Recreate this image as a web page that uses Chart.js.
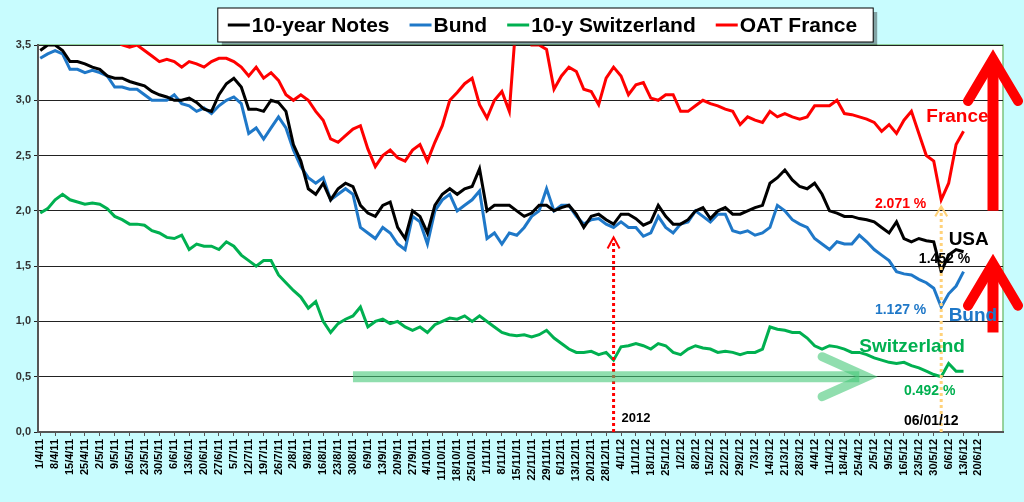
<!DOCTYPE html>
<html><head><meta charset="utf-8">
<script src="https://cdn.jsdelivr.net/npm/chart.js@4"></script>
<style>html,body{margin:0;padding:0;background:#c8fcfe;}#wrap{width:1024px;height:502px;}</style>
</head><body><div id="wrap"><canvas id="c" width="1024" height="502"></canvas></div>
<script>
const weekLabels = ["1/4/11","8/4/11","15/4/11","25/4/11","2/5/11","9/5/11","16/5/11","23/5/11","30/5/11","6/6/11","13/6/11","20/6/11","27/6/11","5/7/11","12/7/11","19/7/11","26/7/11","2/8/11","9/8/11","16/8/11","23/8/11","30/8/11","6/9/11","13/9/11","20/9/11","27/9/11","4/10/11","11/10/11","18/10/11","25/10/11","1/11/11","8/11/11","15/11/11","22/11/11","29/11/11","6/12/11","13/12/11","20/12/11","28/12/11","4/1/12","11/1/12","18/1/12","25/1/12","1/2/12","8/2/12","15/2/12","22/2/12","29/2/12","7/3/12","14/3/12","21/3/12","28/3/12","4/4/12","11/4/12","18/4/12","25/4/12","2/5/12","9/5/12","16/5/12","23/5/12","30/5/12","6/6/12","13/6/12","20/6/12"];
// two observations per week
const usNotes = [3.45,3.5,3.5,3.45,3.35,3.35,3.33,3.3,3.28,3.22,3.2,3.2,3.17,3.15,3.13,3.08,3.05,3.03,3.0,3.0,3.02,2.98,2.92,2.9,3.05,3.15,3.2,3.12,2.92,2.92,2.9,3.0,2.98,2.9,2.6,2.45,2.2,2.15,2.25,2.1,2.2,2.25,2.22,2.05,1.98,1.95,2.05,2.08,1.85,1.75,2.0,1.95,1.8,2.05,2.15,2.2,2.15,2.2,2.22,2.38,2.0,2.05,2.05,2.05,2.0,1.95,1.98,2.05,2.05,2.0,2.03,2.05,1.97,1.85,1.95,1.97,1.92,1.88,1.97,1.97,1.93,1.87,1.9,2.05,1.95,1.88,1.88,1.92,2.0,2.03,1.93,2.0,2.03,1.97,1.97,2.0,2.03,2.05,2.25,2.3,2.37,2.28,2.22,2.2,2.25,2.15,2.0,1.98,1.95,1.95,1.93,1.92,1.9,1.85,1.8,1.9,1.75,1.72,1.75,1.73,1.72,1.45,1.6,1.65,1.63];
const bund = [3.38,3.42,3.45,3.42,3.28,3.28,3.25,3.27,3.25,3.22,3.12,3.12,3.1,3.1,3.05,3.0,3.0,3.0,3.05,2.97,2.95,2.9,2.93,2.88,2.95,3.0,3.03,2.97,2.7,2.75,2.65,2.75,2.85,2.75,2.55,2.4,2.3,2.25,2.3,2.1,2.15,2.2,2.15,1.85,1.8,1.75,1.85,1.8,1.7,1.65,1.95,1.9,1.7,2.0,2.1,2.15,2.0,2.05,2.1,2.18,1.75,1.8,1.7,1.8,1.78,1.85,1.95,2.0,2.2,2.0,2.05,2.05,1.95,1.88,1.92,1.93,1.88,1.85,1.9,1.85,1.85,1.77,1.8,1.95,1.85,1.8,1.88,1.9,2.0,1.95,1.9,1.97,1.97,1.82,1.8,1.82,1.78,1.8,1.85,2.05,2.0,1.92,1.88,1.85,1.75,1.7,1.65,1.72,1.7,1.7,1.78,1.72,1.65,1.6,1.55,1.45,1.43,1.42,1.38,1.35,1.3,1.13,1.25,1.32,1.45];
const swiss = [1.98,2.02,2.1,2.15,2.1,2.08,2.06,2.07,2.06,2.02,1.95,1.92,1.88,1.88,1.87,1.82,1.8,1.76,1.75,1.78,1.65,1.7,1.68,1.68,1.65,1.72,1.68,1.6,1.55,1.5,1.55,1.55,1.42,1.35,1.28,1.22,1.12,1.18,1.0,0.9,0.98,1.02,1.05,1.13,0.95,1.0,1.02,0.98,1.0,0.95,0.92,0.95,0.9,0.97,1.0,1.03,1.02,1.05,1.0,1.05,1.0,0.95,0.9,0.88,0.87,0.88,0.86,0.88,0.92,0.85,0.8,0.75,0.72,0.72,0.73,0.7,0.72,0.65,0.77,0.78,0.8,0.78,0.75,0.8,0.78,0.72,0.7,0.75,0.78,0.76,0.75,0.72,0.73,0.72,0.7,0.72,0.72,0.75,0.95,0.93,0.92,0.9,0.9,0.85,0.78,0.75,0.78,0.77,0.75,0.72,0.72,0.7,0.67,0.65,0.63,0.62,0.63,0.6,0.58,0.55,0.52,0.5,0.62,0.55,0.55];
const oat = [3.6,3.7,3.65,3.7,3.6,3.65,3.6,3.55,3.55,3.6,3.55,3.5,3.48,3.5,3.45,3.4,3.35,3.37,3.35,3.3,3.35,3.33,3.3,3.35,3.38,3.38,3.35,3.3,3.22,3.3,3.2,3.25,3.18,3.05,3.0,3.05,3.0,2.9,2.82,2.65,2.62,2.68,2.74,2.77,2.56,2.4,2.5,2.55,2.48,2.45,2.55,2.6,2.45,2.62,2.77,3.0,3.07,3.15,3.2,2.96,2.84,3.0,3.08,2.9,3.8,3.7,3.5,3.5,3.46,3.1,3.22,3.3,3.26,3.1,3.08,2.96,3.2,3.3,3.22,3.05,3.14,3.16,3.02,3.0,3.05,3.05,2.9,2.9,2.95,3.0,2.97,2.95,2.92,2.9,2.78,2.85,2.82,2.8,2.9,2.85,2.88,2.85,2.83,2.85,2.95,2.95,2.95,3.0,2.88,2.87,2.85,2.83,2.8,2.72,2.78,2.7,2.82,2.9,2.7,2.5,2.45,2.1,2.25,2.6,2.72];
const seriesNames = ["10-year Notes","Bund","10-y Switzerland","OAT France"];
const seriesColors = ["#000000","#1f78c8","#00b050","#ff0000"];
const seriesValues = [usNotes,bund,swiss,oat];
const minIdx = 121; // 06/01/12 lows

const toPts = arr => arr.map((v,i)=>({x:i,y:v}));

const deco = {
  id:'deco',
  beforeDraw(ch){
    const {ctx,chartArea:a}=ch;
    ctx.save();ctx.fillStyle='#fff';ctx.fillRect(a.left,a.top,a.right-a.left,a.bottom-a.top);
    ctx.strokeStyle='#7cc47c';ctx.lineWidth=1.5;ctx.beginPath();
    ctx.moveTo(a.left,a.top);ctx.lineTo(a.right,a.top);ctx.lineTo(a.right,a.bottom);ctx.stroke();ctx.restore();
  },
  afterDatasetsDraw(ch){
    const {ctx,chartArea:a,scales:{x,y}}=ch;
    ctx.save();
    // legend
    ctx.font='bold 21px Arial';
    let w=0; const items=seriesNames.map(n=>{const tw=ctx.measureText(n).width;w+=30+tw+14;return tw;});
    w+=6;
    const lx=(a.left+a.right)/2-w/2+25, ly=8;
    ctx.fillStyle='rgba(0,0,0,0.35)';ctx.fillRect(lx+4,ly+4,w,34);
    ctx.fillStyle='#fff';ctx.fillRect(lx,ly,w,34);ctx.strokeStyle='#000';ctx.lineWidth=1;ctx.strokeRect(lx,ly,w,34);
    let cx=lx+10;
    seriesNames.forEach((n,i)=>{ctx.strokeStyle=seriesColors[i];ctx.lineWidth=3;ctx.beginPath();ctx.moveTo(cx,ly+17);ctx.lineTo(cx+22,ly+17);ctx.stroke();
      ctx.fillStyle='#000';ctx.textBaseline='middle';ctx.fillText(n,cx+24,ly+18);cx+=30+items[i]+14;});
    // 2012 marker
    const x12=x.getPixelForValue(77);
    ctx.strokeStyle='#ff0000';ctx.lineWidth=3;ctx.setLineDash([3,3]);ctx.beginPath();ctx.moveTo(x12,a.bottom);ctx.lineTo(x12,y.getPixelForValue(1.75));ctx.stroke();ctx.setLineDash([]);
    ctx.lineWidth=2;ctx.beginPath();ctx.moveTo(x12-6,y.getPixelForValue(1.66));ctx.lineTo(x12,y.getPixelForValue(1.76));ctx.lineTo(x12+6,y.getPixelForValue(1.66));ctx.stroke();
    ctx.fillStyle='#000';ctx.font='bold 13px Arial';ctx.textBaseline='alphabetic';ctx.fillText('2012',x12+8,a.bottom-10);
    // yellow min marker
    const xm=x.getPixelForValue(minIdx);
    ctx.strokeStyle='#ffd27a';ctx.lineWidth=3;ctx.setLineDash([3,3]);ctx.beginPath();ctx.moveTo(xm,a.bottom);ctx.lineTo(xm,y.getPixelForValue(2.03));ctx.stroke();ctx.setLineDash([]);
    ctx.lineWidth=2;ctx.beginPath();ctx.moveTo(xm-6,y.getPixelForValue(1.95));ctx.lineTo(xm,y.getPixelForValue(2.04));ctx.lineTo(xm+6,y.getPixelForValue(1.95));ctx.stroke();
    // green arrow
    const gy=y.getPixelForValue(0.5);
    ctx.strokeStyle='rgba(70,200,120,0.6)';ctx.fillStyle='rgba(70,200,120,0.6)';ctx.lineWidth=11;ctx.lineCap='butt';
    ctx.beginPath();ctx.moveTo(x.getPixelForValue(42),gy);ctx.lineTo(x.getPixelForValue(110),gy);ctx.stroke();
    ctx.lineWidth=9;ctx.lineCap='round';ctx.beginPath();ctx.moveTo(x.getPixelForValue(105),gy-20);ctx.lineTo(x.getPixelForValue(111),gy);ctx.lineTo(x.getPixelForValue(105),gy+20);ctx.stroke();
    // red arrows
    const ax=a.right-10;
    function up(y0,y1){ctx.strokeStyle='#ff0000';ctx.lineWidth=11;ctx.lineCap='butt';ctx.beginPath();ctx.moveTo(ax,y0);ctx.lineTo(ax,y1+4);ctx.stroke();
      ctx.lineWidth=10;ctx.lineCap='round';ctx.beginPath();ctx.moveTo(ax-25,y1+45);ctx.lineTo(ax,y1+3);ctx.lineTo(ax+25,y1+45);ctx.stroke();}
    up(y.getPixelForValue(2.0),y.getPixelForValue(3.4));
    up(y.getPixelForValue(0.9),y.getPixelForValue(1.55));
    // labels
    ctx.lineCap='butt';ctx.textBaseline='middle';
    const T=(t,v,i,col,f,al)=>{ctx.font=f;ctx.fillStyle=col;ctx.textAlign=al||'left';ctx.fillText(t,x.getPixelForValue(i),y.getPixelForValue(v));};
    T('France',2.85,119,'#ff0000','bold 19px Arial');
    T('2.071 %',2.06,119,'#ff0000','bold 14px Arial','right');
    T('USA',1.74,122,'#000','bold 19px Arial');
    T('1.452 %',1.56,118,'#000','bold 14px Arial');
    T('1.127 %',1.1,119,'#1f78c8','bold 14px Arial','right');
    T('Bund',1.05,122,'#1f78c8','bold 19px Arial');
    T('Switzerland',0.77,110,'#00b050','bold 19px Arial');
    T('0.492 %',0.37,116,'#00b050','bold 14px Arial');
    T('06/01/12',0.1,116,'#000','bold 14px Arial');
    ctx.restore();
  }
};

new Chart(document.getElementById('c'),{
  type:'line',
  data:{datasets:seriesValues.map((v,i)=>({label:seriesNames[i],data:toPts(v),borderColor:seriesColors[i],borderWidth:3,pointRadius:0,tension:0,fill:false}))},
  options:{responsive:false,animation:false,
    layout:{padding:{top:45,right:21,left:4,bottom:12}},
    plugins:{legend:{display:false},tooltip:{enabled:false}},
    scales:{
      x:{type:'linear',min:-0.3,max:129.3,
        afterBuildTicks:s=>{s.ticks=weekLabels.map((_,i)=>({value:i*2}));},
        afterFit:s=>{s.height=58;},
        ticks:{autoSkip:false,maxRotation:90,minRotation:90,color:'#000',font:{family:'Arial',weight:'bold',size:11},callback:v=>weekLabels[v/2]||''},
        grid:{drawOnChartArea:false,color:'#555',tickLength:4},border:{color:'#555',width:2}},
      y:{min:0,max:3.5,afterFit:s=>{s.width=34;},
        ticks:{stepSize:0.5,color:'#333',font:{family:'Arial',weight:'bold',size:11},callback:v=>v.toFixed(1).replace('.',',')},
        grid:{color:'#222',lineWidth:1,tickLength:4},border:{color:'#555',width:2}}
    }
  },
  plugins:[deco]
});
</script></body></html>
